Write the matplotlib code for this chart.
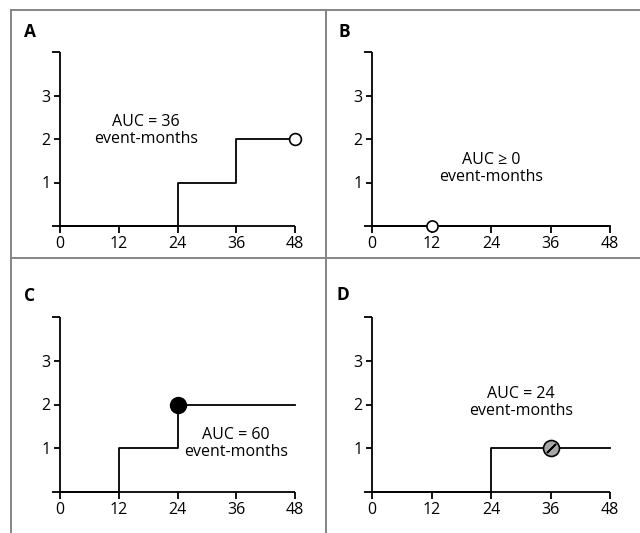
import matplotlib
matplotlib.use('Agg')
import matplotlib.pyplot as plt
from matplotlib.lines import Line2D

plt.rcParams['font.family'] = ['Open Sans', 'DejaVu Sans']

# step data for each panel (x edges, y levels, where='post')
a_x = [0, 24, 36, 48]
a_y = [0, 1, 2, 2]
b_x = [0, 48]
b_y = [0, 0]
c_x = [0, 12, 24, 48]
c_y = [0, 1, 2, 2]
d_x = [0, 24, 48]
d_y = [0, 1, 1]

# marker points
a_pt = (48, 2)
b_pt = (12, 0)
c_pt = (24, 2)
d_pt = (36, 1)

labels = ['A', 'B', 'C', 'D']
auc_text = ['AUC = 36\nevent-months', 'AUC \u2265 0\nevent-months',
            'AUC = 60\nevent-months', 'AUC = 24\nevent-months']
auc_pos = [(17.5, 2.2), (24, 1.32), (36, 1.1), (30, 2.04)]

x_ticks = [0, 12, 24, 36, 48]
y_ticks = [1, 2, 3]

W, H = 640, 533
fig = plt.figure(figsize=(6.4, 5.33), dpi=100)

# pixel positions of x=0, x=48 and y=0, y=4 per column / row
cols = [(60, 295), (372, 610)]
rows = [(226, 52), (492, 317)]

panels = [(a_x, a_y, a_pt), (b_x, b_y, b_pt), (c_x, c_y, c_pt), (d_x, d_y, d_pt)]
lw = 1.3
fs = 11.5

for i, (sx, sy, pt) in enumerate(panels):
    cx0, cx48 = cols[i % 2]
    ry0, ry4 = rows[i // 2]
    ppu = (cx48 - cx0) / 48.0
    xlo, xhi = -3, 51
    left = (cx0 + xlo * ppu) / W
    width = (xhi - xlo) * ppu / W
    bottom = (H - ry0) / H
    height = (ry0 - ry4) / H
    ax = fig.add_axes([left, bottom, width, height])
    ax.set_xlim(xlo, xhi)
    ax.set_ylim(0, 4)
    for s in ['top', 'right']:
        ax.spines[s].set_visible(False)
    ax.spines['left'].set_position(('data', 0))
    ax.spines['left'].set_bounds(0, 4)
    ax.spines['bottom'].set_bounds(-1.6, 48)
    for s in ['left', 'bottom']:
        ax.spines[s].set_linewidth(lw)
        ax.spines[s].set_color('black')
        ax.spines[s].set_capstyle('butt')
    ax.patch.set_alpha(0)
    # small stub at the top of the y axis
    ax.plot([-1.6, 0], [4, 4], color='black', lw=lw, clip_on=False,
            solid_capstyle='butt')
    ax.set_xticks(x_ticks)
    ax.set_yticks(y_ticks)
    ax.tick_params(axis='x', direction='out', length=5, width=lw, labelsize=fs, pad=2.5)
    ax.tick_params(axis='y', direction='out', length=4, width=lw, labelsize=fs, pad=3)

    ax.step(sx, sy, where='post', color='black', lw=lw, clip_on=False)

    if i in (0, 1):
        ax.plot(*pt, 'o', ms=8.5 if i == 0 else 8, mfc='white', mec='black',
                mew=1.2, clip_on=False, zorder=5)
    elif i == 2:
        ax.plot(*pt, 'o', ms=11.5, mfc='black', mec='black', clip_on=False, zorder=5)
    else:
        ax.plot(*pt, 'o', ms=11.5, mfc='#a6a6a6', mec='black', mew=1.2,
                clip_on=False, zorder=5)
        ax.plot(*pt, marker=(2, 2, -45), ms=9, mec='black', mew=1.2,
                clip_on=False, zorder=6)

    tx, ty = auc_pos[i]
    ax.text(tx, ty, auc_text[i], ha='center', va='center', fontsize=fs,
            linespacing=1.1)

# panel letters
letter_px = [(24, 37), (338, 37), (24, 301), (337, 300)]
for lab, (px, py) in zip(labels, letter_px):
    fig.text(px / W, 1 - py / H, lab, fontsize=12.5, fontweight='bold',
             ha='left', va='baseline')

# frame lines
gray = '#858585'
flw = 1.4
fig.add_artist(Line2D([11 / W, 1], [1 - 10 / H, 1 - 10 / H], color=gray, lw=flw))
fig.add_artist(Line2D([11 / W, 11 / W], [0, 1 - 10 / H], color=gray, lw=flw))
fig.add_artist(Line2D([326 / W, 326 / W], [0, 1 - 10 / H], color=gray, lw=flw))
fig.add_artist(Line2D([11 / W, 1], [1 - 258 / H, 1 - 258 / H], color=gray, lw=flw))

fig.savefig('out.png', dpi=100)
